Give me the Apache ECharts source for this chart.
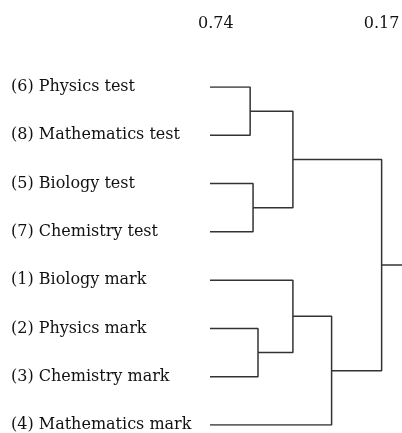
<!DOCTYPE html>
<html lang="en">
<head>
    <meta charset="UTF-8">
    <script src="https://cdn.jsdelivr.net/npm/echarts@6/dist/echarts.min.js"></script>
    <title>Dendrogram</title>
    <style>
        html, body { margin: 0; padding: 0; background: #fff; }
        #main { width: 402px; height: 433px; }
    </style>
</head>
<body>
<div id="main"></div>
<script type="text/javascript">
    // leaves, top to bottom
    var leafLabels = [
        '(6) Physics test',
        '(8) Mathematics test',
        '(5) Biology test',
        '(7) Chemistry test',
        '(1) Biology mark',
        '(2) Physics mark',
        '(3) Chemistry mark',
        '(4) Mathematics mark'
    ];
    // merges: [child a, child b, similarity]; ids 0-7 are leaves, new clusters get 8, 9, ...
    var mergeA = [0, 2, 5, 8, 4, 12, 11];
    var mergeB = [1, 3, 6, 9, 10, 7, 13];
    var mergeSim = [0.622, 0.612, 0.595, 0.475, 0.475, 0.342, 0.17];
    var scaleLabels = [0.74, 0.17];
    var leafSim = 0.76;
    var axisEnd = 0.10;

    var chart = echarts.init(document.getElementById('main'));

    // node positions: x = similarity, y = leaf index (average for clusters)
    var nodeX = [], nodeY = [];
    leafLabels.forEach(function (name, i) {
        nodeX.push(leafSim);
        nodeY.push(i);
    });
    var series = [];
    mergeSim.forEach(function (s, k) {
        var a = mergeA[k], b = mergeB[k];
        series.push({
            type: 'line',
            data: [[nodeX[a], nodeY[a]], [s, nodeY[a]], [s, nodeY[b]], [nodeX[b], nodeY[b]]]
        });
        nodeX.push(s);
        nodeY.push((nodeY[a] + nodeY[b]) / 2);
    });
    var root = nodeX.length - 1;
    series.push({
        type: 'line',
        data: [[nodeX[root], nodeY[root]], [axisEnd, nodeY[root]]]
    });
    series.forEach(function (s) {
        s.symbol = 'none';
        s.silent = true;
        s.lineStyle = {color: '#333', width: 1.5};
    });

    chart.setOption({
        animation: false,
        grid: {left: 210, right: 0, top: 87, bottom: 8, outerBoundsMode: 'none'},
        xAxis: {
            type: 'value',
            position: 'top',
            inverse: true,
            min: axisEnd,
            max: leafSim,
            axisLine: {show: false},
            axisTick: {show: false},
            splitLine: {show: false},
            axisLabel: {
                customValues: scaleLabels,
                margin: 55,
                color: '#111',
                fontFamily: 'DejaVu Serif',
                fontSize: 16,
                formatter: function (v) { return v.toFixed(2); }
            }
        },
        yAxis: {
            type: 'value',
            inverse: true,
            min: 0,
            max: leafLabels.length - 1,
            interval: 1,
            axisLine: {show: false},
            axisTick: {show: false},
            splitLine: {show: false},
            axisLabel: {
                align: 'left',
                margin: 199,
                color: '#111',
                fontFamily: 'DejaVu Serif',
                fontSize: 16,
                formatter: function (v) { return leafLabels[v] || ''; }
            }
        },
        series: series
    });
</script>
</body>
</html>
